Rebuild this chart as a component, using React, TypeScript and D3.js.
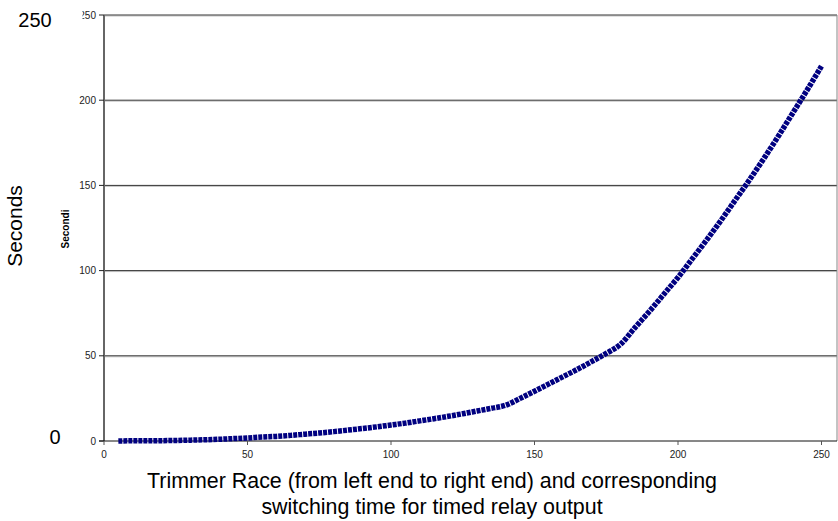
import * as d3 from "d3";

// trimmer position vs switching time
const trimmerPos = [
  5, 10, 15, 20, 25, 30, 35, 40, 45, 50, 55, 60, 65, 70, 75, 80, 85, 90, 95, 100,
  105, 110, 115, 120, 125, 130, 135, 140, 145, 150, 155, 160, 165, 170, 175, 180,
  185, 190, 195, 200, 205, 210, 215, 220, 225, 230, 235, 240, 245, 250,
];
const seconds = [
  0, 0.1, 0.1, 0.2, 0.3, 0.5, 0.7, 1.0, 1.4, 1.8, 2.3, 2.7, 3.3, 4.0, 4.7, 5.5, 6.4, 7.3, 8.3, 9.4,
  10.5, 11.8, 13.1, 14.5, 16.0, 17.6, 19.2, 21.0, 25.0, 29.2, 33.5, 37.8, 42.1, 46.7, 51.4, 56.8,
  66.5, 76, 86, 96, 107, 118, 129.5, 141.5, 153.5, 166, 179, 192.5, 206, 220,
];
const yTicks = [0, 50, 100, 150, 200, 250];
const xTicks = [0, 50, 100, 150, 200, 250];
const titleLines = [
  "Trimmer Race (from left end to right end) and corresponding",
  "switching time for timed relay output",
];

const W = 838;
const H = 521;
const left = 104;
const right = 837;
const top = 15;
const bottom = 441;
const font = "Liberation Sans, Arial, sans-serif";

export default function App() {
  const x = d3.scaleLinear().domain([0, 250]).range([left, 821.5]);
  const y = d3.scaleLinear().domain([0, 250]).range([bottom, top]);

  const pts = trimmerPos.map((p, i) => [p, seconds[i]] as [number, number]);
  const line = d3
    .line<[number, number]>()
    .x((d) => x(d[0]))
    .y((d) => y(d[1]))
    .curve(d3.curveMonotoneX);

  return (
    <div style={{ position: "fixed", left: 0, top: 0 }}>
      <svg width={W} height={H} style={{ fontFamily: font, display: "block" }}>
        <defs>
          <clipPath id="topClip">
            <rect x={82.5} y={0} width={40} height={30} />
          </clipPath>
        </defs>
        <rect width={W} height={H} fill="#fff" />

        {/* gridlines */}
        {yTicks
          .filter((t) => t > 0)
          .map((t) => (
            <g key={t}>
              <line x1={left} x2={right} y1={y(t) + 1} y2={y(t) + 1} stroke="#c4c4c4" />
              <line x1={left} x2={right} y1={y(t)} y2={y(t)} stroke="#333" />
            </g>
          ))}
        <line x1={right} x2={right} y1={top} y2={bottom} stroke="#888" />

        {/* y axis */}
        <line x1={left} x2={left} y1={top} y2={bottom} stroke="#666" strokeWidth={2} />
        {yTicks.map((t) => (
          <g key={t}>
            <line x1={left - 5} x2={left} y1={y(t)} y2={y(t)} stroke="#222" />
            <text
              x={96}
              y={y(t)}
              dy="0.35em"
              textAnchor="end"
              fontSize={10}
              fill="#222"
              clipPath={t === 250 ? "url(#topClip)" : undefined}
            >
              {t}
            </text>
          </g>
        ))}

        {/* x axis */}
        <line x1={left - 5} x2={right} y1={bottom} y2={bottom} stroke="#111" />
        {xTicks.map((t) => (
          <g key={t}>
            <line x1={x(t)} x2={x(t)} y1={bottom} y2={bottom + 4} stroke="#555" />
            <text x={x(t)} y={458} textAnchor="middle" fontSize={10} fill="#222">
              {t}
            </text>
          </g>
        ))}

        {/* series */}
        <path
          d={line(pts) ?? ""}
          fill="none"
          stroke="#000080"
          strokeWidth={5.5}
          strokeDasharray="4 1"
        />

        {/* outer labels */}
        <text x={35} y={27} textAnchor="middle" fontSize={20} fill="#000">
          250
        </text>
        <text x={55} y={444} textAnchor="middle" fontSize={20} fill="#000">
          0
        </text>
        <text
          transform="translate(22,226) rotate(-90)"
          textAnchor="middle"
          fontSize={21}
          fill="#000"
        >
          Seconds
        </text>
        <text
          transform="translate(69,229) rotate(-90)"
          textAnchor="middle"
          fontSize={10}
          fontWeight="bold"
          fill="#000"
        >
          Secondi
        </text>
        {titleLines.map((l, i) => (
          <text key={i} x={432} y={488 + i * 26} textAnchor="middle" fontSize={21.4} fill="#000">
            {l}
          </text>
        ))}
      </svg>
    </div>
  );
}
